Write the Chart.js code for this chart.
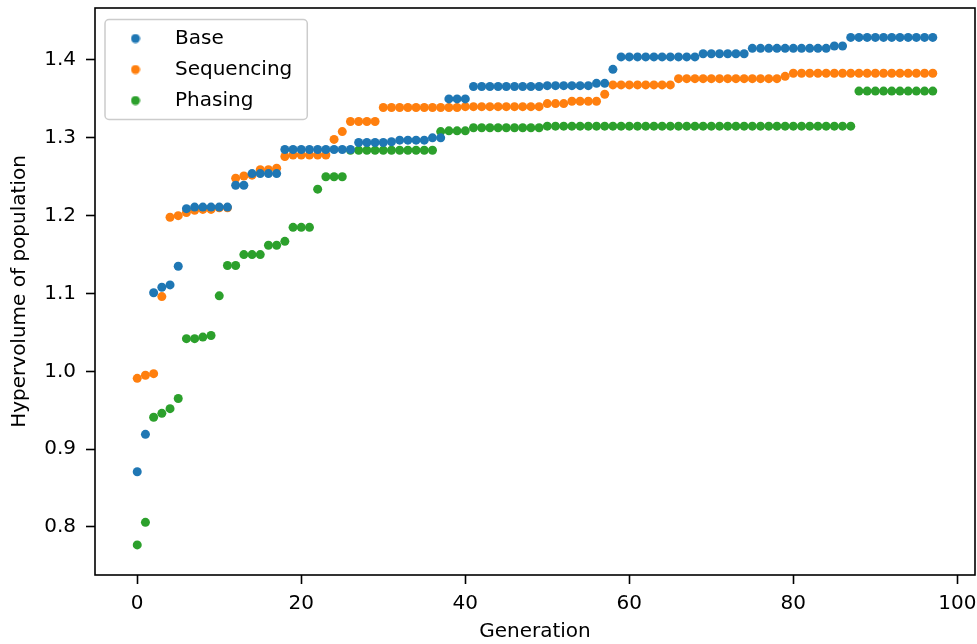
<!DOCTYPE html>
<html>
<head>
  <meta charset="utf-8">
  <title>Hypervolume of population</title>
  <script src="https://cdn.jsdelivr.net/npm/chart.js@4.4.0/dist/chart.umd.min.js"></script>
  <style>body { margin: 0; background: #fff; }</style>
</head>
<body>
  <canvas id="myChart" width="977" height="644"></canvas>

  <script>
    const generations = [
      0, 1, 2, 3, 4, 5, 6, 7, 8, 9, 10, 11, 12, 13, 14, 15, 16, 17, 18, 19,
      20, 21, 22, 23, 24, 25, 26, 27, 28, 29, 30, 31, 32, 33, 34, 35, 36, 37, 38, 39,
      40, 41, 42, 43, 44, 45, 46, 47, 48, 49, 50, 51, 52, 53, 54, 55, 56, 57, 58, 59,
      60, 61, 62, 63, 64, 65, 66, 67, 68, 69, 70, 71, 72, 73, 74, 75, 76, 77, 78, 79,
      80, 81, 82, 83, 84, 85, 86, 87, 88, 89, 90, 91, 92, 93, 94, 95, 96, 97
    ];

    const base = [
      0.871, 0.919, 1.101, 1.108, 1.111, 1.135, 1.209, 1.211, 1.211, 1.211,
      1.211, 1.211, 1.239, 1.239, 1.254, 1.254, 1.254, 1.254, 1.285, 1.285,
      1.285, 1.285, 1.285, 1.285, 1.285, 1.285, 1.285, 1.294, 1.294, 1.294,
      1.294, 1.295, 1.297, 1.297, 1.297, 1.297, 1.300, 1.300, 1.350, 1.350,
      1.350, 1.366, 1.366, 1.366, 1.366, 1.366, 1.366, 1.366, 1.366, 1.366,
      1.367, 1.367, 1.367, 1.367, 1.367, 1.367, 1.370, 1.370, 1.388, 1.404,
      1.404, 1.404, 1.404, 1.404, 1.404, 1.404, 1.404, 1.404, 1.404, 1.408,
      1.408, 1.408, 1.408, 1.408, 1.408, 1.415, 1.415, 1.415, 1.415, 1.415,
      1.415, 1.415, 1.415, 1.415, 1.415, 1.418, 1.418, 1.429, 1.429, 1.429,
      1.429, 1.429, 1.429, 1.429, 1.429, 1.429, 1.429, 1.429
    ];

    const sequencing = [
      0.991, 0.995, 0.997, 1.096, 1.198, 1.200, 1.204, 1.207, 1.208, 1.208,
      1.210, 1.210, 1.248, 1.251, 1.252, 1.259, 1.259, 1.261, 1.276, 1.278,
      1.278, 1.278, 1.278, 1.278, 1.298, 1.308, 1.321, 1.321, 1.321, 1.321,
      1.339, 1.339, 1.339, 1.339, 1.339, 1.339, 1.339, 1.339, 1.339, 1.339,
      1.340, 1.340, 1.340, 1.340, 1.340, 1.340, 1.340, 1.340, 1.340, 1.340,
      1.344, 1.344, 1.344, 1.347, 1.347, 1.347, 1.347, 1.356, 1.368, 1.368,
      1.368, 1.368, 1.368, 1.368, 1.368, 1.368, 1.376, 1.376, 1.376, 1.376,
      1.376, 1.376, 1.376, 1.376, 1.376, 1.376, 1.376, 1.376, 1.376, 1.379,
      1.383, 1.383, 1.383, 1.383, 1.383, 1.383, 1.383, 1.383, 1.383, 1.383,
      1.383, 1.383, 1.383, 1.383, 1.383, 1.383, 1.383, 1.383
    ];

    const phasing = [
      0.777, 0.806, 0.941, 0.946, 0.952, 0.965, 1.042, 1.042, 1.044, 1.046,
      1.097, 1.136, 1.136, 1.150, 1.150, 1.150, 1.162, 1.162, 1.167, 1.185,
      1.185, 1.185, 1.234, 1.250, 1.250, 1.250, 1.284, 1.284, 1.284, 1.284,
      1.284, 1.284, 1.284, 1.284, 1.284, 1.284, 1.284, 1.308, 1.309, 1.309,
      1.309, 1.313, 1.313, 1.313, 1.313, 1.313, 1.313, 1.313, 1.313, 1.313,
      1.315, 1.315, 1.315, 1.315, 1.315, 1.315, 1.315, 1.315, 1.315, 1.315,
      1.315, 1.315, 1.315, 1.315, 1.315, 1.315, 1.315, 1.315, 1.315, 1.315,
      1.315, 1.315, 1.315, 1.315, 1.315, 1.315, 1.315, 1.315, 1.315, 1.315,
      1.315, 1.315, 1.315, 1.315, 1.315, 1.315, 1.315, 1.315, 1.360, 1.360,
      1.360, 1.360, 1.360, 1.360, 1.360, 1.360, 1.360, 1.360
    ];

    const seriesNames = ['Base', 'Sequencing', 'Phasing'];
    const seriesColors = ['#1f77b4', '#ff7f0e', '#2ca02c'];
    const xTicks = [0, 20, 40, 60, 80, 100];
    const yTicks = [0.8, 0.9, 1.0, 1.1, 1.2, 1.3, 1.4];

    const FONT = 'DejaVu Sans';
    const R = 4.5;

    // small round marker for the legend (drawn as an image so it can sit in a wide box)
    function dot(color) {
      const c = document.createElement('canvas');
      c.width = 10; c.height = 10;
      const g = c.getContext('2d');
      g.fillStyle = color;
      g.beginPath();
      g.arc(5, 5, R, 0, Math.PI * 2);
      g.fill();
      return c;
    }

    const toPoints = ys => generations.map((g, i) => ({x: g, y: ys[i]}));

    const datasets = [base, sequencing, phasing].map((ys, i) => ({
      label: seriesNames[i],
      data: toPoints(ys),
      backgroundColor: seriesColors[i],
      borderWidth: 0,
      pointRadius: R,
      pointHoverRadius: R
    }));

    const framePlugin = {
      id: 'frames',
      beforeDraw(chart) {
        const ctx = chart.ctx;
        ctx.save();
        ctx.fillStyle = '#fff';
        ctx.fillRect(0, 0, chart.width, chart.height);
        // legend frame
        const hb = chart.legend.legendHitBoxes;
        if (hb && hb.length) {
          const l = hb[0].left - 1;
          const t = hb[0].top - 9;
          const r = Math.max(...hb.map(h => h.left + h.width)) + 15;
          const b = hb[hb.length - 1].top + hb[hb.length - 1].height + 9;
          ctx.beginPath();
          ctx.roundRect(l, t, r - l, b - t, 4);
          ctx.fillStyle = 'rgba(255,255,255,0.8)';
          ctx.fill();
          ctx.strokeStyle = '#cccccc';
          ctx.lineWidth = 1.5;
          ctx.stroke();
        }
        ctx.restore();
      },
      afterDatasetsDraw(chart) {
        const {left, top, right, bottom} = chart.chartArea;
        const ctx = chart.ctx;
        ctx.save();
        ctx.strokeStyle = '#000';
        ctx.lineWidth = 1.6;
        ctx.strokeRect(left, top, right - left, bottom - top);
        ctx.restore();
      }
    };

    const noPad = s => { s.paddingTop = 0; s.paddingBottom = 0; s.paddingLeft = 0; s.paddingRight = 0; };

    const ctx = document.getElementById('myChart').getContext('2d');
    const myChart = new Chart(ctx, {
      type: 'scatter',
      data: {datasets},
      plugins: [framePlugin],
      options: {
        responsive: false,
        animation: false,
        layout: {autoPadding: false, padding: {left: 0, top: 8, right: 2, bottom: 0}},
        scales: {
          x: {
            type: 'linear',
            min: -5.15,
            max: 102.15,
            afterBuildTicks: s => { s.ticks = xTicks.map(v => ({value: v})); },
            afterFit: s => { s.height = 69; noPad(s); },
            border: {display: false},
            grid: {drawOnChartArea: false, drawTicks: true, tickLength: 9, tickWidth: 1.6, tickColor: '#000'},
            ticks: {color: '#000', padding: 8, font: {family: FONT, size: 20}, maxRotation: 0,
                    callback: v => String(v)},
            title: {display: true, text: 'Generation', color: '#000', padding: 0,
                    font: {family: FONT, size: 20}}
          },
          y: {
            type: 'linear',
            min: 0.7383,
            max: 1.4668,
            afterBuildTicks: s => { s.ticks = yTicks.map(v => ({value: v})); },
            afterFit: s => { s.width = 95; noPad(s); },
            border: {display: false},
            grid: {drawOnChartArea: false, drawTicks: true, tickLength: 9, tickWidth: 1.6, tickColor: '#000'},
            ticks: {color: '#000', padding: 10, font: {family: FONT, size: 20},
                    callback: v => v.toFixed(1)},
            title: {display: true, text: 'Hypervolume of population', color: '#000',
                    padding: {top: 8, bottom: 0}, font: {family: FONT, size: 20}}
          }
        },
        plugins: {
          tooltip: {enabled: false},
          legend: {
            position: 'chartArea',
            align: 'start',
            title: {display: true, text: '', padding: {top: 16.5, bottom: 0}, font: {size: 1, lineHeight: 1}},
            labels: {
              color: '#000',
              font: {family: FONT, size: 20},
              padding: 11,
              usePointStyle: true,
              pointStyleWidth: 59,
              generateLabels: chart => chart.data.datasets.map((ds, i) => ({
                text: ds.label,
                pointStyle: dot(ds.backgroundColor),
                fillStyle: ds.backgroundColor,
                strokeStyle: ds.backgroundColor,
                fontColor: '#000',
                lineWidth: 0,
                hidden: false,
                datasetIndex: i
              }))
            }
          }
        }
      }
    });
  </script>
</body>
</html>
